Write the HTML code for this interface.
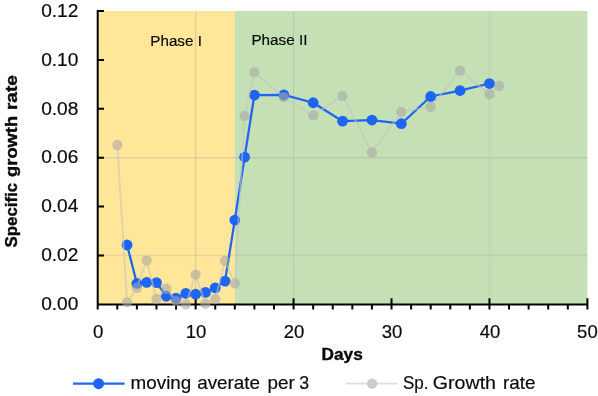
<!DOCTYPE html>
<html lang="en"><head><meta charset="utf-8"><title>Specific growth rate</title>
<style>html,body{margin:0;padding:0;background:#fff;overflow:hidden}svg{display:block}</style>
</head><body>
<svg width="598" height="396" viewBox="0 0 598 396">
<rect x="0" y="0" width="598" height="396" fill="#fff"/>
<rect x="97.70" y="11.00" width="137.12" height="293.40" fill="#FFE699"/>
<rect x="234.82" y="11.00" width="352.58" height="293.40" fill="#C5E0B4"/>
<path d="M98.70 157.70H587.40" stroke="rgba(160,165,172,0.31)" stroke-width="1.6" fill="none"/>
<path d="M98.70 255.50H587.40" stroke="rgba(160,165,172,0.27)" stroke-width="1.6" fill="none"/>
<path d="M195.64 11.00V304.40M293.58 11.00V304.40" stroke="rgba(160,165,172,0.36)" stroke-width="1.2" fill="none"/>
<path d="M489.46 11.00V304.40" stroke="rgba(160,165,172,0.09)" stroke-width="2.4" fill="none"/>
<path d="M97.70 10.00V305.40M96.70 304.40H588.40M97.70 255.50h6.3M97.70 206.60h6.3M97.70 157.70h6.3M97.70 108.80h6.3M97.70 59.90h6.3M97.70 11.00h6.3M97.70 298.20V309.40M117.29 304.40V309.40M136.88 304.40V309.40M156.46 304.40V309.40M176.05 304.40V309.40M195.64 298.20V309.40M215.23 304.40V309.40M234.82 304.40V309.40M254.40 304.40V309.40M273.99 304.40V309.40M293.58 298.20V309.40M313.17 304.40V309.40M332.76 304.40V309.40M352.34 304.40V309.40M371.93 304.40V309.40M391.52 298.20V309.40M411.11 304.40V309.40M430.70 304.40V309.40M450.28 304.40V309.40M469.87 304.40V309.40M489.46 298.20V309.40M509.05 304.40V309.40M528.64 304.40V309.40M548.22 304.40V309.40M567.81 304.40V309.40M587.40 298.20V309.40" stroke="#000" stroke-width="2" fill="none"/>
<polyline points="127.08,244.99 136.88,283.45 146.67,282.31 156.46,282.64 166.26,296.25 176.05,298.12 185.85,293.40 195.64,294.21 205.43,292.42 215.23,287.86 225.02,281.09 234.82,220.05 244.61,157.13 254.40,95.03 283.79,94.86 313.17,102.77 342.55,121.19 371.93,120.05 401.31,123.71 430.70,96.49 460.08,90.54 489.46,83.53" fill="none" stroke="#1D65F2" stroke-width="2.25" stroke-linejoin="round"/>
<g fill="#1D65F2"><circle cx="127.08" cy="244.99" r="5.4"/><circle cx="136.88" cy="283.45" r="5.4"/><circle cx="146.67" cy="282.31" r="5.4"/><circle cx="156.46" cy="282.64" r="5.4"/><circle cx="166.26" cy="296.25" r="5.4"/><circle cx="176.05" cy="298.12" r="5.4"/><circle cx="185.85" cy="293.40" r="5.4"/><circle cx="195.64" cy="294.21" r="5.4"/><circle cx="205.43" cy="292.42" r="5.4"/><circle cx="215.23" cy="287.86" r="5.4"/><circle cx="225.02" cy="281.09" r="5.4"/><circle cx="234.82" cy="220.05" r="5.4"/><circle cx="244.61" cy="157.13" r="5.4"/><circle cx="254.40" cy="95.03" r="5.4"/><circle cx="283.79" cy="94.86" r="5.4"/><circle cx="313.17" cy="102.77" r="5.4"/><circle cx="342.55" cy="121.19" r="5.4"/><circle cx="371.93" cy="120.05" r="5.4"/><circle cx="401.31" cy="123.71" r="5.4"/><circle cx="430.70" cy="96.49" r="5.4"/><circle cx="460.08" cy="90.54" r="5.4"/><circle cx="489.46" cy="83.53" r="5.4"/></g>
<g opacity="0.58"><polyline points="117.29,144.99 127.08,302.20 136.88,287.77 146.67,260.39 156.46,298.78 166.26,288.75 176.05,301.22 185.85,304.40 195.64,274.57 205.43,303.67 215.23,299.02 225.02,260.88 234.82,283.37 244.61,115.89 254.40,72.12 283.79,97.06 313.17,115.40 342.55,95.84 371.93,152.32 401.31,111.98 430.70,106.84 460.08,70.66 489.46,94.13 499.25,85.82" fill="none" stroke="#C4C4C4" stroke-width="1.8" stroke-linejoin="round"/>
<g fill="#A7A7A7"><circle cx="117.29" cy="144.99" r="5.15"/><circle cx="127.08" cy="302.20" r="5.15"/><circle cx="136.88" cy="287.77" r="5.15"/><circle cx="146.67" cy="260.39" r="5.15"/><circle cx="156.46" cy="298.78" r="5.15"/><circle cx="166.26" cy="288.75" r="5.15"/><circle cx="176.05" cy="301.22" r="5.15"/><circle cx="185.85" cy="304.40" r="5.15"/><circle cx="195.64" cy="274.57" r="5.15"/><circle cx="205.43" cy="303.67" r="5.15"/><circle cx="215.23" cy="299.02" r="5.15"/><circle cx="225.02" cy="260.88" r="5.15"/><circle cx="234.82" cy="283.37" r="5.15"/><circle cx="244.61" cy="115.89" r="5.15"/><circle cx="254.40" cy="72.12" r="5.15"/><circle cx="283.79" cy="97.06" r="5.15"/><circle cx="313.17" cy="115.40" r="5.15"/><circle cx="342.55" cy="95.84" r="5.15"/><circle cx="371.93" cy="152.32" r="5.15"/><circle cx="401.31" cy="111.98" r="5.15"/><circle cx="430.70" cy="106.84" r="5.15"/><circle cx="460.08" cy="70.66" r="5.15"/><circle cx="489.46" cy="94.13" r="5.15"/><circle cx="499.25" cy="85.82" r="5.15"/></g></g>
<g font-family='"Liberation Sans", sans-serif' fill="#0a0a0a" stroke="#0a0a0a" stroke-width="0.18" opacity="0.999">
<text x="78.40" y="310.10" font-size="18.3" text-anchor="end" font-weight="400" textLength="37.20" lengthAdjust="spacingAndGlyphs" >0.00</text>
<text x="78.40" y="261.20" font-size="18.3" text-anchor="end" font-weight="400" textLength="37.20" lengthAdjust="spacingAndGlyphs" >0.02</text>
<text x="78.40" y="212.30" font-size="18.3" text-anchor="end" font-weight="400" textLength="37.20" lengthAdjust="spacingAndGlyphs" >0.04</text>
<text x="78.40" y="163.40" font-size="18.3" text-anchor="end" font-weight="400" textLength="37.20" lengthAdjust="spacingAndGlyphs" >0.06</text>
<text x="78.40" y="114.50" font-size="18.3" text-anchor="end" font-weight="400" textLength="37.20" lengthAdjust="spacingAndGlyphs" >0.08</text>
<text x="78.40" y="65.60" font-size="18.3" text-anchor="end" font-weight="400" textLength="37.20" lengthAdjust="spacingAndGlyphs" >0.10</text>
<text x="78.40" y="16.70" font-size="18.3" text-anchor="end" font-weight="400" textLength="37.20" lengthAdjust="spacingAndGlyphs" >0.12</text>
<text x="98.20" y="338.20" font-size="18.3" text-anchor="middle" font-weight="400" textLength="10.40" lengthAdjust="spacingAndGlyphs" >0</text>
<text x="196.14" y="338.20" font-size="18.3" text-anchor="middle" font-weight="400" textLength="20.60" lengthAdjust="spacingAndGlyphs" >10</text>
<text x="294.08" y="338.20" font-size="18.3" text-anchor="middle" font-weight="400" textLength="20.60" lengthAdjust="spacingAndGlyphs" >20</text>
<text x="392.02" y="338.20" font-size="18.3" text-anchor="middle" font-weight="400" textLength="20.60" lengthAdjust="spacingAndGlyphs" >30</text>
<text x="489.96" y="338.20" font-size="18.3" text-anchor="middle" font-weight="400" textLength="20.60" lengthAdjust="spacingAndGlyphs" >40</text>
<text x="587.40" y="338.20" font-size="18.3" text-anchor="middle" font-weight="400" textLength="20.60" lengthAdjust="spacingAndGlyphs" >50</text>
<text x="342.20" y="360.10" font-size="17.4" text-anchor="middle" font-weight="700" textLength="41.20" lengthAdjust="spacingAndGlyphs" stroke="#0a0a0a" stroke-width="0.4">Days</text>
<text x="0.00" y="0.00" font-size="17.4" text-anchor="start" font-weight="700" textLength="64.50" lengthAdjust="spacingAndGlyphs" transform="translate(16.8 247.4) rotate(-90)" stroke="#0a0a0a" stroke-width="0.4">Specific</text>
<text x="0.00" y="0.00" font-size="17.4" text-anchor="start" font-weight="700" textLength="61.00" lengthAdjust="spacingAndGlyphs" transform="translate(16.8 176.9) rotate(-90)" stroke="#0a0a0a" stroke-width="0.4">growth</text>
<text x="0.00" y="0.00" font-size="17.4" text-anchor="start" font-weight="700" textLength="34.90" lengthAdjust="spacingAndGlyphs" transform="translate(16.8 110.1) rotate(-90)" stroke="#0a0a0a" stroke-width="0.4">rate</text>
<text x="150.30" y="45.60" font-size="15.2" text-anchor="start" font-weight="400" textLength="51.60" lengthAdjust="spacingAndGlyphs" >Phase I</text>
<text x="251.40" y="45.10" font-size="15.2" text-anchor="start" font-weight="400" textLength="56.00" lengthAdjust="spacingAndGlyphs" >Phase II</text>
<text x="130.60" y="388.90" font-size="19.0" text-anchor="start" font-weight="400" textLength="60.70" lengthAdjust="spacingAndGlyphs" >moving</text>
<text x="197.20" y="388.90" font-size="19.0" text-anchor="start" font-weight="400" textLength="62.80" lengthAdjust="spacingAndGlyphs" >averate</text>
<text x="267.50" y="388.90" font-size="19.0" text-anchor="start" font-weight="400" textLength="27.30" lengthAdjust="spacingAndGlyphs" >per</text>
<text x="299.30" y="388.90" font-size="19.0" text-anchor="start" font-weight="400" textLength="9.90" lengthAdjust="spacingAndGlyphs" >3</text>
<text x="403.00" y="388.90" font-size="19.0" text-anchor="start" font-weight="400" textLength="25.60" lengthAdjust="spacingAndGlyphs" >Sp.</text>
<text x="432.80" y="388.90" font-size="19.0" text-anchor="start" font-weight="400" textLength="63.20" lengthAdjust="spacingAndGlyphs" >Growth</text>
<text x="503.10" y="388.90" font-size="19.0" text-anchor="start" font-weight="400" textLength="32.50" lengthAdjust="spacingAndGlyphs" >rate</text>
</g>
<path d="M73 383.7H124.6" stroke="#1D65F2" stroke-width="2.25"/><circle cx="98.6" cy="383.7" r="5.45" fill="#1D65F2"/>
<g opacity="0.58"><path d="M346.1 383.7H397.8" stroke="#C4C4C4" stroke-width="1.8"/><circle cx="372.1" cy="383.7" r="5.15" fill="#A7A7A7"/></g>
</svg>
</body></html>
